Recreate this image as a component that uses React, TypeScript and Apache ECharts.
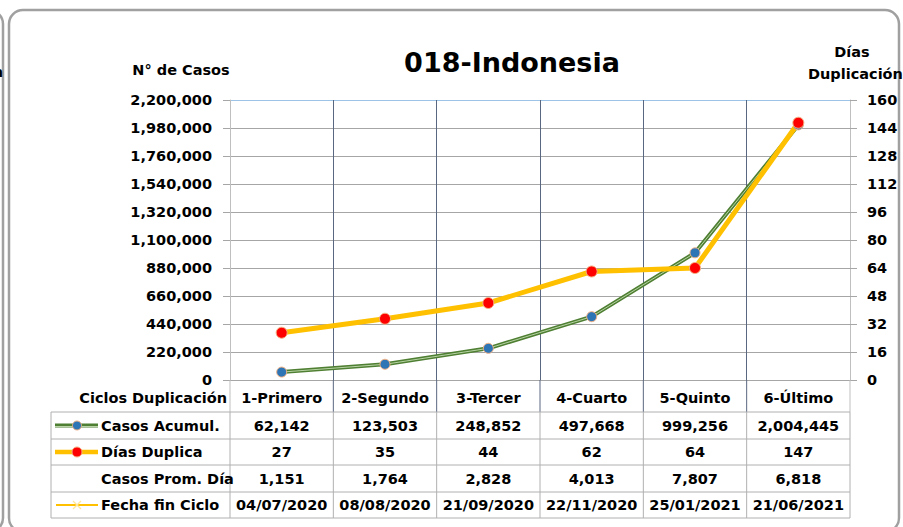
import React, { useEffect, useRef } from "react";
import * as echarts from "echarts";

const categories = ["1-Primero", "2-Segundo", "3-Tercer", "4-Cuarto", "5-Quinto", "6-Último"];
const casosAcumul = [62142, 123503, 248852, 497668, 999256, 2004445];
const diasDuplica = [27, 35, 44, 62, 64, 147];
const casosPromDia = [1151, 1764, 2828, 4013, 7807, 6818];
const fechaFin = ["04/07/2020", "08/08/2020", "21/09/2020", "22/11/2020", "25/01/2021", "21/06/2021"];

const W = 903;
const H = 527;
const GL = 230;
const GR = 850;
const GT = 100;
const GB = 380;
const ROW_Y = [412, 439, 465, 492, 518];
const TABLE_LEFT = 51;
const FONT = "DejaVu Sans";
const FS = 14.5;

const fmt = (v: number) => v.toLocaleString("en-US");

function buildGraphics() {
  const g: any[] = [];
  const colX = (i: number) => GL + ((GR - GL) * i) / categories.length;
  const txt = (text: string, x: number, y: number, align: string, size = FS, extra: any = {}) => ({
    type: "text",
    x,
    y,
    silent: true,
    z: 10,
    style: {
      text,
      fill: "#000",
      font: `bold ${size}px "${FONT}"`,
      align,
      verticalAlign: "middle",
      ...extra,
    },
  });
  const line = (x1: number, y1: number, x2: number, y2: number, stroke: string, lineWidth = 1) => ({
    type: "line",
    silent: true,
    z: 5,
    shape: { x1, y1, x2, y2 },
    style: { stroke, lineWidth },
  });

  // frames
  g.push({
    type: "rect",
    silent: true,
    shape: { x: -900, y: 10, width: 903, height: 522, r: 14 },
    style: { fill: "none", stroke: "#a0a0a0", lineWidth: 2.5 },
  });
  g.push({
    type: "rect",
    silent: true,
    shape: { x: 9, y: 10, width: 890, height: 522, r: 14 },
    style: { fill: "none", stroke: "#a0a0a0", lineWidth: 2.5 },
  });
  g.push(txt("Duplicación", 3, 72, "right"));

  // titles
  g.push(txt("018-Indonesia", 512, 62, "center", 27));
  g.push(txt("N° de Casos", 181, 70, "center"));
  g.push(txt("Días", 852, 52, "center"));
  g.push(txt("Duplicación", 808, 74, "left"));
  g.push(txt("Ciclos Duplicación", 227, 398, "right"));

  // header row verticals
  for (let i = 0; i <= categories.length; i++) {
    const edge = i === 0 || i === categories.length;
    g.push(line(colX(i), GB, colX(i), ROW_Y[0], edge ? "#bfbfbf" : "#5a6780"));
  }
  // table lines
  const tableStroke = "#b0b0b0";
  ROW_Y.forEach((y) => g.push(line(TABLE_LEFT, y, GR, y, tableStroke)));
  g.push(line(TABLE_LEFT, ROW_Y[0], TABLE_LEFT, ROW_Y[ROW_Y.length - 1], tableStroke));
  for (let i = 0; i <= categories.length; i++) {
    g.push(line(colX(i), ROW_Y[0], colX(i), ROW_Y[ROW_Y.length - 1], tableStroke));
  }

  const rows = [
    { label: "Casos Acumul.", values: casosAcumul.map(fmt) },
    { label: "Días Duplica", values: diasDuplica.map(String) },
    { label: "Casos Prom. Día", values: casosPromDia.map(fmt) },
    { label: "Fecha fin Ciclo", values: fechaFin },
  ];
  rows.forEach((r, ri) => {
    const cy = (ROW_Y[ri] + ROW_Y[ri + 1]) / 2;
    g.push(txt(r.label, 101, cy, "left"));
    r.values.forEach((v, ci) => {
      g.push(txt(v, (colX(ci) + colX(ci + 1)) / 2, cy, "center"));
    });
  });

  // legend icons
  const y1 = (ROW_Y[0] + ROW_Y[1]) / 2;
  g.push(line(55, y1, 98, y1, "#4f7f32", 4));
  g.push(line(55, y1 + 1, 98, y1 + 1, "#b8d4a6", 1));
  g.push({
    type: "circle",
    silent: true,
    z: 6,
    shape: { cx: 77, cy: y1, r: 4.5 },
    style: { fill: "#2e75b6", stroke: "#f4b183", lineWidth: 1 },
  });
  const y2 = (ROW_Y[1] + ROW_Y[2]) / 2;
  g.push(line(55, y2, 98, y2, "#ffc000", 4.5));
  g.push({
    type: "circle",
    silent: true,
    z: 6,
    shape: { cx: 77, cy: y2, r: 5 },
    style: { fill: "#ff0000", stroke: "#f4b183", lineWidth: 1 },
  });
  const y4 = (ROW_Y[3] + ROW_Y[4]) / 2;
  g.push(line(56, y4, 98, y4, "#ffc000", 2.2));
  g.push(line(73, y4 - 4, 81, y4 + 4, "#ffe699", 1.2));
  g.push(line(73, y4 + 4, 81, y4 - 4, "#ffe699", 1.2));

  return g;
}

export default function App() {
  const ref = useRef<HTMLDivElement>(null);
  useEffect(() => {
    if (!ref.current) return;
    const chart = echarts.init(ref.current, null, { renderer: "svg" });
    const labelStyle = { fontFamily: FONT, fontWeight: "bold", fontSize: FS, color: "#000" };
    const ySplitColors = Array.from({ length: 11 }, (_, i) => (i === 10 ? "#9dc3e6" : "#a6a6a6"));
    const xSplitColors = Array.from({ length: 7 }, (_, i) => (i === 0 || i === 6 ? "#bfbfbf" : "#5a6780"));
    chart.setOption({
      animation: false,
      backgroundColor: "#ffffff",
      grid: { left: GL, right: W - GR, top: GT, bottom: H - GB, containLabel: false },
      xAxis: {
        type: "category",
        data: categories,
        boundaryGap: true,
        axisLine: { lineStyle: { color: "#a6a6a6", width: 1 } },
        axisTick: { show: false, interval: 0 },
        axisLabel: { ...labelStyle, margin: 10, interval: 0 },
        splitLine: { show: true, interval: 0, lineStyle: { color: xSplitColors, width: 1 } },
      },
      yAxis: [
        {
          type: "value",
          min: 0,
          max: 2200000,
          interval: 220000,
          axisLine: { show: true, lineStyle: { color: "#bfbfbf" } },
          axisTick: { show: true, length: 7, lineStyle: { color: "#a6a6a6" } },
          axisLabel: { ...labelStyle, margin: 18, formatter: (v: number) => fmt(v) },
          splitLine: { show: true, lineStyle: { color: ySplitColors, width: 1 } },
        },
        {
          type: "value",
          position: "right",
          min: 0,
          max: 160,
          interval: 16,
          axisLine: { show: true, lineStyle: { color: "#bfbfbf" } },
          axisTick: { show: true, length: 7, lineStyle: { color: "#a6a6a6" } },
          axisLabel: { ...labelStyle, margin: 17 },
          splitLine: { show: false },
        },
      ],
      series: [
        {
          type: "line",
          data: casosAcumul,
          yAxisIndex: 0,
          showSymbol: false,
          z: 2,
          lineStyle: { color: "#4f7f32", width: 4 },
          silent: true,
        },
        {
          type: "line",
          data: casosAcumul,
          yAxisIndex: 0,
          showSymbol: false,
          z: 2,
          lineStyle: { color: "#b8d4a6", width: 1 },
          silent: true,
        },
        {
          type: "line",
          data: casosAcumul,
          yAxisIndex: 0,
          z: 3,
          symbol: "circle",
          symbolSize: 10,
          lineStyle: { width: 0, opacity: 0 },
          itemStyle: { color: "#2e75b6", borderColor: "#f4b183", borderWidth: 1 },
          silent: true,
        },
        {
          type: "line",
          data: diasDuplica,
          yAxisIndex: 1,
          z: 3,
          symbol: "circle",
          symbolSize: 11,
          lineStyle: { color: "#ffc000", width: 5 },
          itemStyle: { color: "#ff0000", borderColor: "#f4b183", borderWidth: 1 },
          silent: true,
        },
      ],
      graphic: buildGraphics(),
    });
    return () => chart.dispose();
  }, []);
  return (
    <div
      ref={ref}
      style={{ position: "fixed", left: 0, top: 0, width: W, height: H, background: "#fff" }}
    />
  );
}
